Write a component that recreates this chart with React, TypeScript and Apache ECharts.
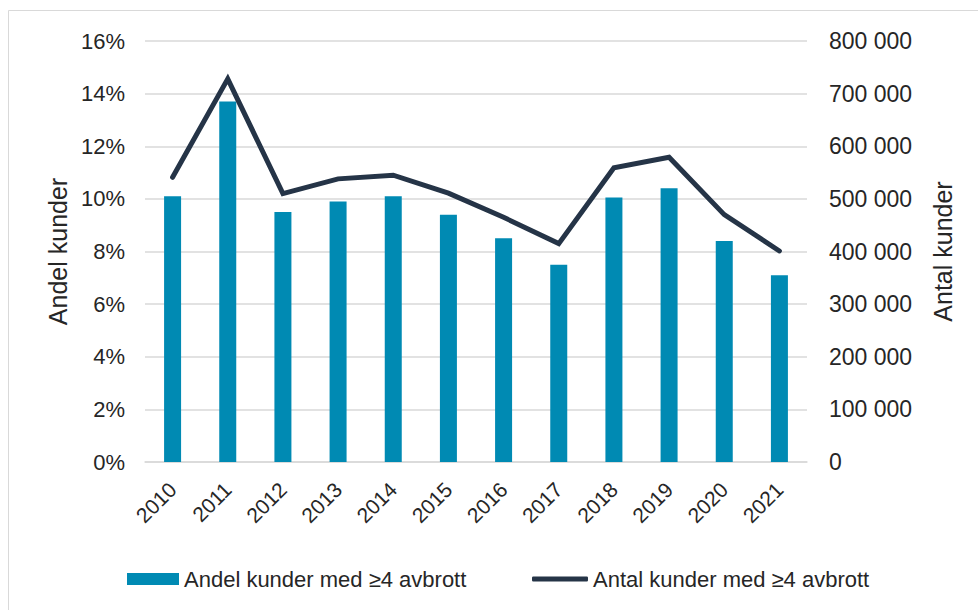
import React, { useEffect, useRef } from "react";
import * as echarts from "echarts";

const years = ["2010", "2011", "2012", "2013", "2014", "2015", "2016", "2017", "2018", "2019", "2020", "2021"];
const andelKunder = [10.1, 13.7, 9.5, 9.9, 10.1, 9.4, 8.5, 7.5, 10.05, 10.4, 8.4, 7.1];
const antalKunder = [541000, 728000, 510000, 538000, 545000, 511000, 465000, 415000, 559000, 579000, 470000, 401000];
const barName = "Andel kunder med ≥4 avbrott";
const lineName = "Antal kunder med ≥4 avbrott";

const fmtThousands = (v: number) => String(v).replace(/\B(?=(\d{3})+(?!\d))/g, " ");

export default function App() {
  const ref = useRef<HTMLDivElement>(null);
  useEffect(() => {
    if (!ref.current) return;
    const chart = echarts.init(ref.current, null, { renderer: "svg" });
    const axisFont = "Liberation Sans, Arial, sans-serif";
    chart.setOption({
      animation: false,
      backgroundColor: "#ffffff",
      graphic: [
        {
          type: "rect",
          shape: { x: 8.5, y: 10.5, width: 1000, height: 700 },
          style: { fill: "none", stroke: "#d9d9d9", lineWidth: 1 },
          silent: true,
        },
      ],
      grid: { left: 145, right: 171, top: 41, bottom: 148, containLabel: false },
      legend: [
        {
          data: [{ name: barName, icon: "rect" }],
          left: 127,
          top: 568,
          padding: 0,
          itemWidth: 52,
          itemHeight: 12,
          textStyle: { fontFamily: axisFont, fontSize: 22, color: "#262626" },
        },
        {
          data: [{ name: lineName, icon: "roundRect" }],
          left: 532,
          top: 568,
          padding: 0,
          itemWidth: 56,
          itemHeight: 5,
          textStyle: { fontFamily: axisFont, fontSize: 22, color: "#262626" },
        },
      ],
      xAxis: {
        type: "category",
        data: years,
        axisLine: { show: true, lineStyle: { color: "#d9d9d9", width: 1.5 } },
        axisTick: { show: false },
        axisLabel: {
          rotate: 45,
          fontFamily: axisFont,
          fontSize: 21,
          color: "#262626",
          margin: 24,
          interval: 0,
        },
      },
      yAxis: [
        {
          type: "value",
          min: 0,
          max: 16,
          interval: 2,
          name: "Andel kunder",
          nameLocation: "middle",
          nameRotate: 90,
          nameGap: 74,
          nameTextStyle: { fontFamily: axisFont, fontSize: 25, color: "#262626" },
          axisLabel: {
            formatter: (v: number) => v + "%",
            fontFamily: axisFont,
            fontSize: 22,
            color: "#262626",
            margin: 20,
          },
          axisLine: { show: false },
          axisTick: { show: false },
          splitLine: { show: true, lineStyle: { color: "#d9d9d9", width: 1.5 } },
        },
        {
          type: "value",
          min: 0,
          max: 800000,
          interval: 100000,
          name: "Antal kunder",
          nameLocation: "middle",
          nameRotate: 90,
          nameGap: 123,
          nameTextStyle: { fontFamily: axisFont, fontSize: 25, color: "#262626" },
          axisLabel: {
            formatter: (v: number) => fmtThousands(v),
            fontFamily: axisFont,
            fontSize: 23,
            color: "#262626",
            margin: 22,
          },
          axisLine: { show: false },
          axisTick: { show: false },
          splitLine: { show: false },
        },
      ],
      series: [
        {
          name: barName,
          type: "bar",
          data: andelKunder,
          yAxisIndex: 0,
          barWidth: 17,
          itemStyle: { color: "#008ab3" },
        },
        {
          name: lineName,
          type: "line",
          data: antalKunder,
          yAxisIndex: 1,
          symbol: "none",
          lineStyle: { color: "#253447", width: 5, cap: "round", join: "miter" },
          itemStyle: { color: "#253447" },
        },
      ],
    });
    return () => chart.dispose();
  }, []);
  return <div ref={ref} style={{ position: "absolute", left: 0, top: 0, width: 978, height: 610 }} />;
}
